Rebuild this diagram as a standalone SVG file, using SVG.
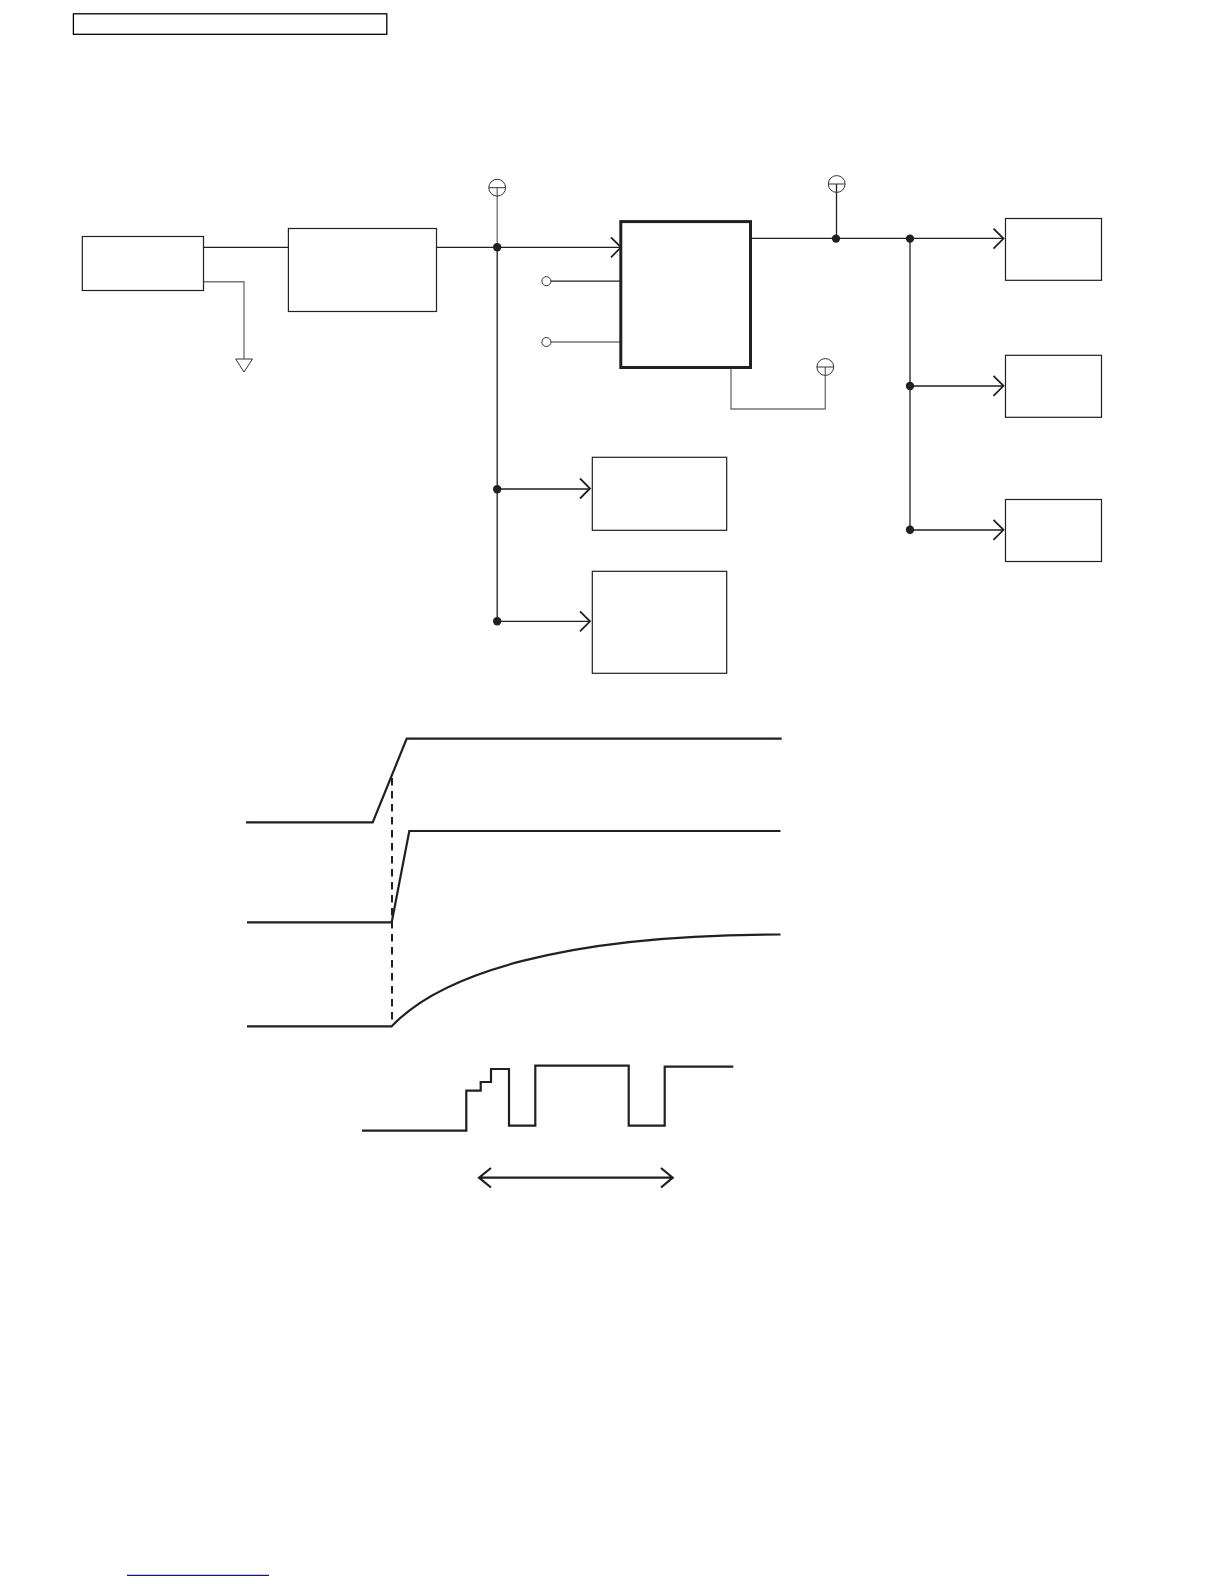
<svg xmlns="http://www.w3.org/2000/svg" width="1224" height="1584" viewBox="0 0 1224 1584">
  <style>
    .box{fill:#fff;stroke:#231f20;stroke-width:1.2}
    .wire{fill:none;stroke:#231f20;stroke-width:1.3}
    .soft{fill:none;stroke:#777;stroke-width:1.4}
    .head{fill:none;stroke:#231f20;stroke-width:1.8}
    .dot{fill:#231f20}
    .sym{fill:none;stroke:#333;stroke-width:1}
    .pin{fill:#fff;stroke:#333;stroke-width:1}
    .wave{fill:none;stroke:#231f20;stroke-width:2.2}
  </style>
  <defs>
    <path id="h" class="head" d="M-10,-10 L0,0 L-10,10"/>
  </defs>
  <rect width="1224" height="1584" fill="#fff"/>
  <g id="title-frame"><rect x="73.4" y="13.8" width="313.4" height="20.5" fill="none" stroke="#000" stroke-width="1.3"/></g>
  <g id="connectors">
    <path class="wire" d="M203.5,247.3H288M436.5,247.3H621M497.2,247.3V621.3M497.2,489H590M497.2,621.3H590"/>
    <path class="soft" d="M497.2,188V247.3"/>
    <path class="soft" d="M204,281.7H244V359"/>
    <path class="wire" d="M551,281.2H621"/>
    <path class="soft" d="M551,342H621"/>
    <path class="wire" d="M752,238.3H1003M836.5,184V238.3M910,238.3V530M910,386H1003M910,530H1003"/>
    <path class="soft" d="M731,368V409H825.3V367"/>
    <use href="#h" x="621" y="247.3"/>
    <use href="#h" x="590" y="488.5"/>
    <use href="#h" x="590" y="621.3"/>
    <use href="#h" x="1003.5" y="238.6"/>
    <use href="#h" x="1003.5" y="385.8"/>
    <use href="#h" x="1003.5" y="529.8"/>
    <circle class="dot" cx="497.2" cy="247.3" r="4.2"/>
    <circle class="dot" cx="497.2" cy="489.3" r="4.2"/>
    <circle class="dot" cx="497.2" cy="621.3" r="4.2"/>
    <circle class="dot" cx="836" cy="238.6" r="4.2"/>
    <circle class="dot" cx="910" cy="238.6" r="4.2"/>
    <circle class="dot" cx="910" cy="386" r="4.2"/>
    <circle class="dot" cx="910" cy="529.8" r="4.2"/>
  </g>
  <g id="node-source"><rect class="box" x="82.3" y="236.5" width="121.2" height="54"/></g>
  <g id="node-reg"><rect class="box" x="288.4" y="228.5" width="148.1" height="83"/></g>
  <g id="node-ic"><rect x="620.8" y="221.6" width="129.7" height="145.9" fill="#fff" stroke="#231f20" stroke-width="3"/></g>
  <g id="node-mid1"><rect class="box" x="592.3" y="457.3" width="134.4" height="73"/></g>
  <g id="node-mid2"><rect class="box" x="592.3" y="571.3" width="134.4" height="102"/></g>
  <g id="node-r1"><rect class="box" x="1005.5" y="218.5" width="96" height="61.8"/></g>
  <g id="node-r2"><rect class="box" x="1005.5" y="355.3" width="96" height="62"/></g>
  <g id="node-r3"><rect class="box" x="1005.5" y="499.5" width="96" height="62"/></g>
  <g id="ground"><path class="sym" d="M235.7,359H252.5L244,372Z"/></g>
  <g id="term-1"><circle class="sym" cx="497.2" cy="187.7" r="8.4"/><path class="sym" d="M488.8,187.7H505.6"/></g>
  <g id="term-2"><circle class="sym" cx="836.7" cy="184" r="8.4"/><path class="sym" d="M828.3,184H845.1"/></g>
  <g id="term-3"><circle class="sym" cx="825.3" cy="367" r="8.4"/><path class="sym" d="M816.9,367H833.7"/></g>
  <g id="pin-1"><circle class="pin" cx="546.4" cy="281.2" r="4.5"/></g>
  <g id="pin-2"><circle class="pin" cx="546.4" cy="342" r="4.5"/></g>
  <g id="waveforms">
    <path class="wave" d="M246,822.3H372.7L406.7,738.7H781.7"/>
    <path class="wave" d="M247,922.3H391.7L409.3,831H780.5"/>
    <path class="wave" d="M247,1026.3H391.7C440,975 560,934.5 780.5,934.5"/>
    <path d="M392,778V1024" fill="none" stroke="#231f20" stroke-width="2" stroke-dasharray="7.5 5.5"/>
    <path class="wave" d="M362,1130.6H466.3V1090.7H480.7V1082H491V1069H509V1125.7H535.3V1065.7H628.7V1125.7H664.7V1066.7H733.3"/>
    <path class="wave" d="M479,1177.7H672.7M491,1168L479,1177.7L491,1187.5M661,1168L672.7,1177.7L661,1187.5"/>
  </g>
  <g id="footer-rule"><path d="M127,1575.4H269" stroke="#14148a" stroke-width="1.3" fill="none"/></g>
</svg>
